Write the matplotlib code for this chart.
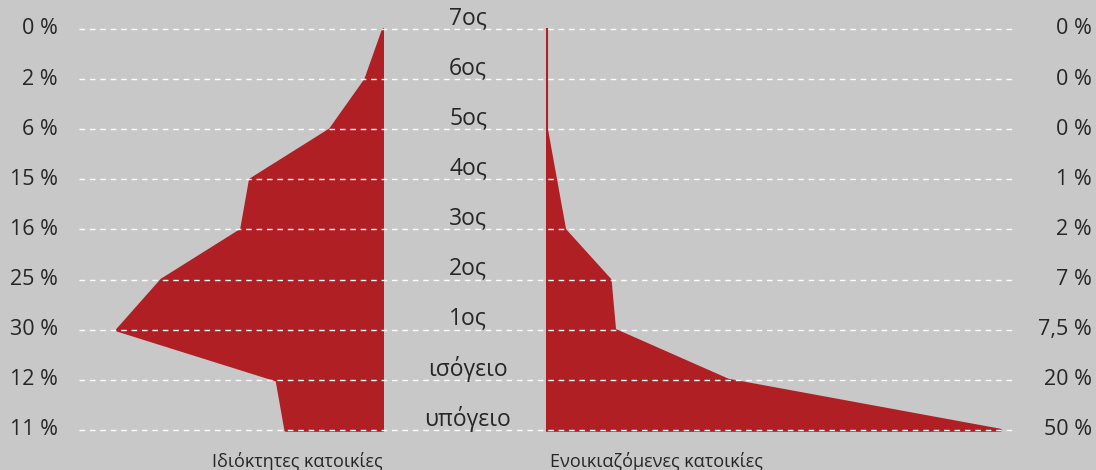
import matplotlib.pyplot as plt
import numpy as np

# floors from top to bottom, with the share of each housing type
floors = ['7ος', '6ος', '5ος', '4ος', '3ος', '2ος', '1ος', 'ισόγειο', 'υπόγειο']
owned = [0, 2, 6, 15, 16, 25, 30, 12, 11]
rented = [0, 0, 0, 1, 2, 7, 7.5, 20, 50]
owned_labels = ['0 %', '2 %', '6 %', '15 %', '16 %', '25 %', '30 %', '12 %', '11 %']
rented_labels = ['0 %', '0 %', '0 %', '1 %', '2 %', '7 %', '7,5 %', '20 %', '50 %']

bg = '#c8c8c8'
red = '#b01f24'
txt = '#262626'
W, H = 1096, 470

plt.rcParams['font.family'] = ['Open Sans', 'DejaVu Sans']

fig = plt.figure(figsize=(W / 100, H / 100), dpi=100)
fig.patch.set_facecolor(bg)

rows = np.arange(len(floors))
# row 0 sits 29 px from the top, rows 50 px apart
ylim = ((H - 29) / 50.1, -29 / 50.1)

# owners: grows to the left from x=383
ax_l = fig.add_axes([0, 0, 383 / W, 1])
ax_l.fill_betweenx(rows, 0, owned, color=red, edgecolor=red, linewidth=2.2)
ax_l.set_xlim(383 / 8.87, 0)
ax_l.set_ylim(*ylim)
ax_l.axis('off')

# renters: grows to the right from x=546
ax_r = fig.add_axes([546 / W, 0, (W - 546) / W, 1])
ax_r.fill_betweenx(rows, 0, rented, color=red, edgecolor=red, linewidth=2.2)
ax_r.set_xlim(0, (W - 546) / 9.08)
ax_r.set_ylim(*ylim)
ax_r.axis('off')

# overlay for grid lines and text
ax = fig.add_axes([0, 0, 1, 1])
ax.patch.set_alpha(0)
ax.set_xlim(0, W)
ax.set_ylim(*ylim)
ax.axis('off')

ax.hlines(rows, 79, 1015, colors='white', linestyles=(0, (4, 3.5)), linewidth=1.0)

for i in rows:
    ax.text(58, i, owned_labels[i], ha='right', va='center', fontsize=15.5, color=txt)
    ax.text(1092, i, rented_labels[i], ha='right', va='center', fontsize=15.5, color=txt)
    ax.text(468, i - 0.22, floors[i], ha='center', va='center', fontsize=16.5, color=txt)

ax.text(297, 8.63, 'Ιδιόκτητες κατοικίες', ha='center', va='center', fontsize=13, color=txt)
ax.text(656, 8.63, 'Ενοικιαζόμενες κατοικίες', ha='center', va='center', fontsize=13, color=txt)

fig.savefig('out.png', dpi=100, facecolor=bg)
